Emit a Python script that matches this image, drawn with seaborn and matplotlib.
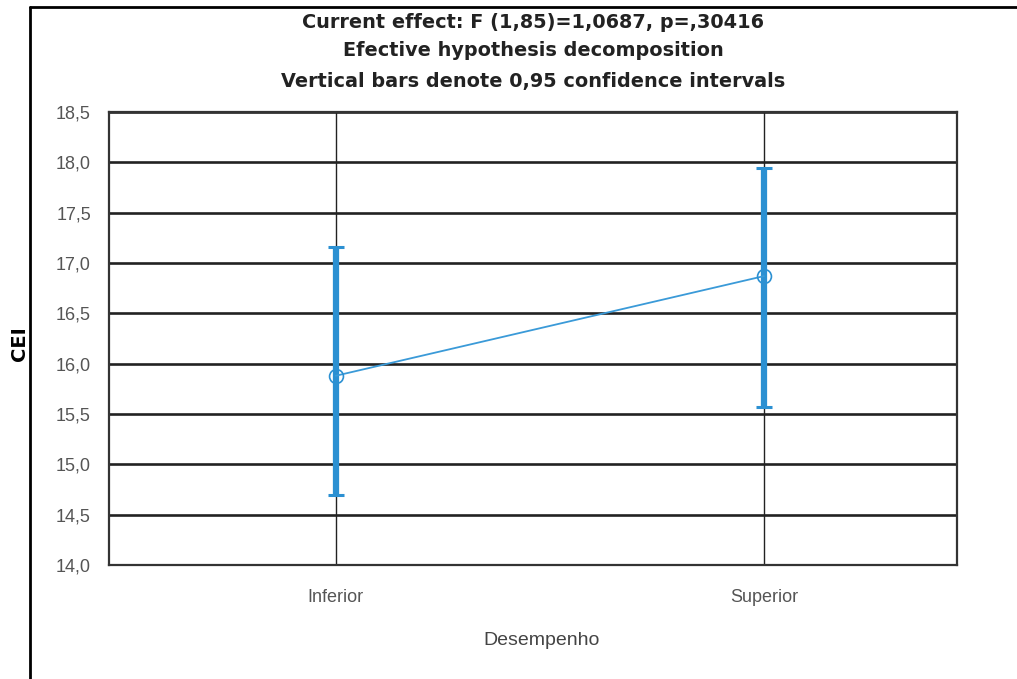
import matplotlib
matplotlib.use("Agg")
import matplotlib.pyplot as plt
import seaborn as sns
import pandas as pd
from matplotlib.lines import Line2D

categories = ["Inferior", "Superior"]
means = [15.88, 16.87]
ci_low = [14.70, 15.57]
ci_high = [17.16, 17.94]
yticks = [14.0, 14.5, 15.0, 15.5, 16.0, 16.5, 17.0, 17.5, 18.0, 18.5]
ytick_labels = ["14,0", "14,5", "15,0", "15,5", "16,0", "16,5", "17,0", "17,5", "18,0", "18,5"]
title_lines = ["Current effect: F (1,85)=1,0687, p=,30416",
               "Efective hypothesis decomposition",
               "Vertical bars denote 0,95 confidence intervals"]

sns.set_theme(style="white")
plt.rcParams['font.family'] = ['Liberation Sans', 'DejaVu Sans']

df = pd.DataFrame({"Desempenho": categories, "CEI": means})

fig = plt.figure(figsize=(10.17, 6.79), dpi=100)
ax = fig.add_axes([109/1017, 1-565/679, (957-109)/1017, (565-112)/679])

blue = "#2b90d2"

# grid
for y in yticks:
    ax.axhline(y, color="#222222", lw=1.9, zorder=1)
for i in range(len(categories)):
    ax.axvline(i, color="#222222", lw=1.0, zorder=1)

yerr = [[m - l for m, l in zip(means, ci_low)], [h - m for m, h in zip(means, ci_high)]]
ax.errorbar(range(len(categories)), means, yerr=yerr, fmt="none", ecolor=blue,
            elinewidth=4.5, capsize=6, capthick=2.2, zorder=3)

sns.pointplot(data=df, x="Desempenho", y="CEI", errorbar=None, color="#3a9ad8",
              markers="o", linestyles="-", ax=ax,
              markersize=10, markerfacecolor="none", markeredgecolor=blue,
              markeredgewidth=1.2, linewidth=1.3, zorder=4)

ax.set_xlim(-0.53, 1.451)
ax.set_ylim(14.0, 18.5)
ax.set_yticks(yticks)
ax.set_yticklabels(ytick_labels)
ax.tick_params(axis="both", length=0, labelsize=13, labelcolor="#555555")
ax.tick_params(axis="y", pad=13)
ax.tick_params(axis="x", pad=17)
for s in ax.spines.values():
    s.set_visible(True)
    s.set_color("#333333")
    s.set_linewidth(1.6)

ax.set_xlabel("Desempenho", fontsize=14, color="#444444")
ax.xaxis.set_label_coords(0.51, -0.148)
ax.set_ylabel("CEI", fontsize=14, fontweight="bold", color="black",
              family=["DejaVu Sans"])
ax.yaxis.set_label_coords(-0.094, 0.488)

ys = [1-22/679, 1-51/679, 1-82/679]
for t, y in zip(title_lines, ys):
    fig.text(533/1017, y, t, ha="center", va="center", fontsize=13.9,
             fontweight="bold", color="#222222", family=["DejaVu Sans"])

# outer frame (left and top edges visible)
fig.add_artist(Line2D([30/1017, 30/1017], [0, 1-7/679], color="black", lw=2.0, transform=fig.transFigure))
fig.add_artist(Line2D([30/1017, 1], [1-7/679, 1-7/679], color="black", lw=2.0, transform=fig.transFigure))

fig.savefig("out.png", dpi=100, facecolor="white")
